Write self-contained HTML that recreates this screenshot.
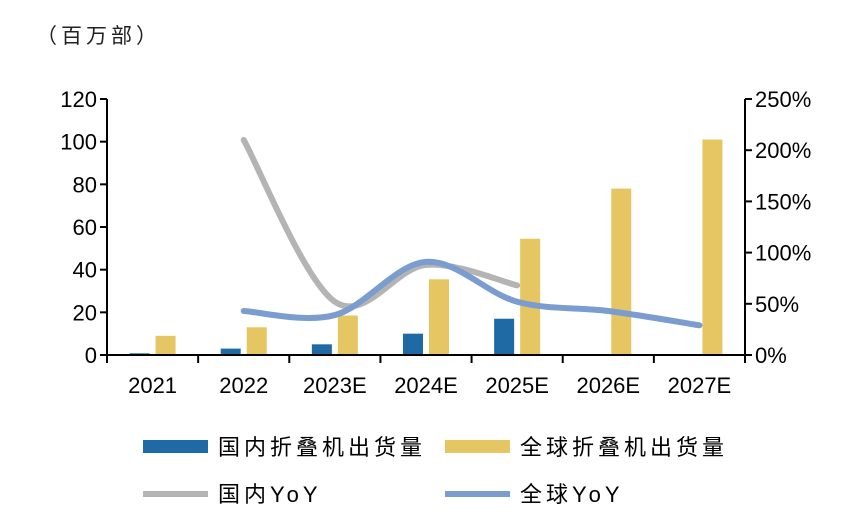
<!DOCTYPE html>
<html><head><meta charset="utf-8"><style>
body{margin:0;background:#fff;}
svg text{font-family:"Liberation Sans","Noto Sans CJK SC",sans-serif;}
</style></head><body>
<svg id="c" width="866" height="520" xmlns="http://www.w3.org/2000/svg">
<text x="36" y="43" font-size="21" letter-spacing="4" fill="#222">（百万部）</text>
</svg>
<script>
const categories=["2021","2022","2023E","2024E","2025E","2026E","2027E"];
const domestic=[0.8,3,5,10,17,null,null];
const globalShip=[9,13,18.5,35.5,54.5,78,101];
const domesticYoY=[null,210,52,88,68,null,null];
const globalYoY=[null,43,39,91,52,43,29];
const leftTicks=[0,20,40,60,80,100,120];
const rightTicks=[0,50,100,150,200,250];
const NS="http://www.w3.org/2000/svg";
const svg=document.getElementById('c');
const X0=107,X1=745,Y0=355,Y1=99;
const step=(X1-X0)/categories.length;
const cx=i=>X0+step*(i+0.5);
const yL=v=>Y0-(v/120)*(Y0-Y1);
const yR=v=>Y0-(v/250)*(Y0-Y1);
function mk(t,a,p){const e=document.createElementNS(NS,t);for(const k in a)e.setAttribute(k,a[k]);(p||svg).appendChild(e);return e;}
domestic.forEach((v,i)=>{if(v==null)return;
const r=mk('rect',{x:cx(i)-23,y:yL(v),width:20,height:Y0-yL(v),fill:'#1f6aa5'});

});
globalShip.forEach((v,i)=>{
const r=mk('rect',{x:cx(i)+3,y:yL(v),width:20,height:Y0-yL(v),fill:'#e6c662'});

});
function smooth(vals){const pts=[];vals.forEach((v,i)=>{if(v!=null)pts.push([cx(i),yR(v)]);});
let d='M'+pts[0][0]+','+pts[0][1];
for(let i=0;i<pts.length-1;i++){const p0=pts[i-1]||pts[i],p1=pts[i],p2=pts[i+1],p3=pts[i+2]||p2;
const c1=[p1[0]+(p2[0]-p0[0])/6,p1[1]+(p2[1]-p0[1])/6],c2=[p2[0]-(p3[0]-p1[0])/6,p2[1]-(p3[1]-p1[1])/6];
d+=` C${c1[0]},${c1[1]} ${c2[0]},${c2[1]} ${p2[0]},${p2[1]}`;}return d;}
const gl=mk('path',{d:smooth(domesticYoY),fill:'none',stroke:'#b4b4b4','stroke-width':6,'stroke-linecap':'round'});


const bl=mk('path',{d:smooth(globalYoY),fill:'none',stroke:'#7b9ccf','stroke-width':6,'stroke-linecap':'round'});


mk('line',{x1:X0,y1:Y1,x2:X0,y2:Y0,stroke:'#000','stroke-width':2});
mk('line',{x1:X1,y1:Y1,x2:X1,y2:Y0,stroke:'#000','stroke-width':2});
mk('line',{x1:X0,y1:Y0,x2:X1,y2:Y0,stroke:'#000','stroke-width':2});
leftTicks.forEach(v=>{mk('line',{x1:X0-7,y1:yL(v),x2:X0,y2:yL(v),stroke:'#000','stroke-width':2});
const t=mk('text',{x:X0-10,y:yL(v)+8,'text-anchor':'end','font-size':22,fill:'#000'});t.textContent=v;

});
rightTicks.forEach(v=>{mk('line',{x1:X1,y1:yR(v),x2:X1+7,y2:yR(v),stroke:'#000','stroke-width':2});
const t=mk('text',{x:X1+10,y:yR(v)+8,'font-size':22,fill:'#000'});t.textContent=v+'%';

});
for(let i=0;i<=categories.length;i++)mk('line',{x1:X0+step*i,y1:Y0,x2:X0+step*i,y2:Y0+8,stroke:'#000','stroke-width':2});
categories.forEach((c,i)=>{const t=mk('text',{x:cx(i),y:393,'text-anchor':'middle','font-size':22,fill:'#000'});t.textContent=c;

});
function leg(x,y,type,color,label,name){const g=mk('g',{});


if(type==='bar')mk('rect',{x:x,y:y-7,width:65,height:13,fill:color},g);
else mk('line',{x1:x,y1:y,x2:x+65,y2:y,stroke:color,'stroke-width':6},g);
const t=mk('text',{x:x+75,y:y+8,'font-size':22,'letter-spacing':4,fill:'#000'},g);t.textContent=label;}
leg(143,447,'bar','#1f6aa5','国内折叠机出货量','legend-domestic-shipments');
leg(445,447,'bar','#e6c662','全球折叠机出货量','legend-global-shipments');
leg(143,494,'line','#b4b4b4','国内YoY','legend-domestic-yoy');
leg(445,494,'line','#7b9ccf','全球YoY','legend-global-yoy');
</script>
</body></html>
